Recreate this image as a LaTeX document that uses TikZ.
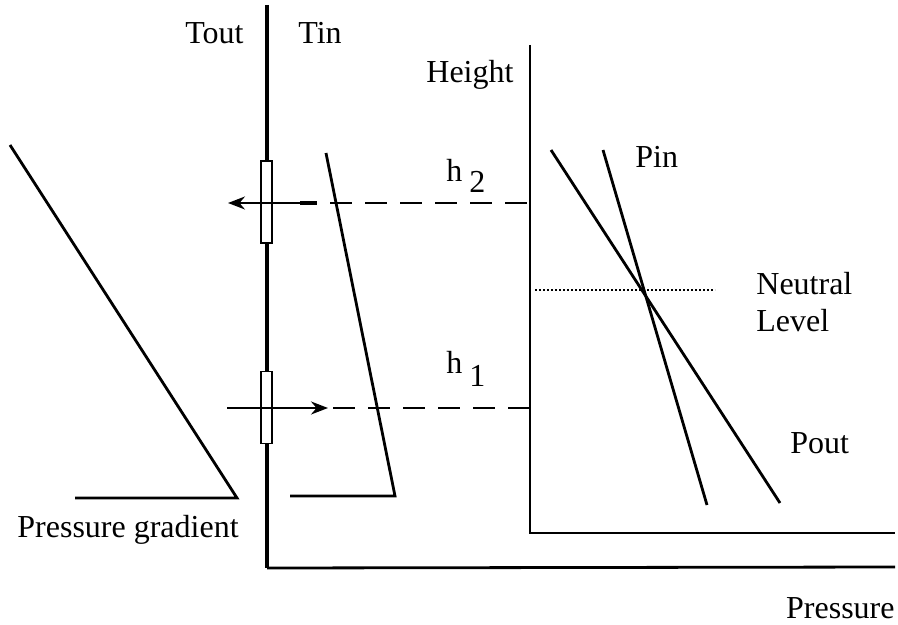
\documentclass[tikz,border=0pt]{standalone}
\usepackage{fontspec}
\setmainfont{Liberation Serif}
\usetikzlibrary{arrows.meta}
\begin{document}
\begin{tikzpicture}[x=0.5pt,y=-0.5pt,
  lbl/.style={font=\fontsize{16}{19}\selectfont, inner sep=0pt, anchor=base west},
  wall/.style={line width=2pt},
  slope/.style={line width=1.4pt},
  axis/.style={line width=1.4pt},
  flow/.style={line width=1pt},
  dashline/.style={line width=1pt, dash pattern=on 11pt off 6.5pt},
  window/.style={draw, line width=0.8pt, fill=white, minimum width=5.5pt, inner sep=0pt},
  tip/.style={-{Stealth[length=8.5pt,width=6.5pt]}}]
\useasboundingbox (0,0) rectangle (898,625);
% wall
\coordinate (wtop) at (267,5);
\coordinate (wbot) at (267,568);
\draw[wall] (wtop) -- (wbot);
\node[window, minimum height=41pt] (win2) at (266.5,202) {};
\node[window, minimum height=36pt] (win1) at (266.5,407.5) {};
% bottom axis
\coordinate (bx) at (895,567);
\draw[axis] (wbot) -- (bx);
% right graph axes
\coordinate (gtop) at (530,45);
\coordinate (gorig) at (530,533);
\coordinate (gright) at (895,533);
\draw[axis] (gtop) -- (gorig) -- (gright);
% outside pressure gradient
\coordinate (o1) at (10,145);
\coordinate (o2) at (237,498);
\coordinate (o3) at (75,498);
\draw[slope] (o1) -- (o2) -- (o3);
% inside pressure gradient
\coordinate (i1) at (326,153);
\coordinate (i2) at (395,496);
\coordinate (i3) at (290,496);
\draw[slope] (i1) -- (i2) -- (i3);
% upper flow (outward)
\coordinate (u0) at (317,203);
\coordinate (ub) at (300,203);
\coordinate (ut) at (228,203);
\draw[flow,tip] (u0) -- (ut);
\draw[line width=2.2pt] (ub) -- (u0);
\coordinate (d2a) at (330,203);
\coordinate (d2b) at (530,203);
\draw[dashline] (d2a) -- (d2b);
% lower flow (inward)
\coordinate (l0) at (227,408);
\coordinate (lt) at (328,408);
\draw[flow,tip] (l0) -- (lt);
\coordinate (d1a) at (333,408);
\coordinate (d1b) at (530,408);
\draw[dashline] (d1a) -- (d1b);
% Pin and Pout
\coordinate (pin1) at (603,150);
\coordinate (pin2) at (707,505);
\coordinate (pout1) at (551,150);
\coordinate (pout2) at (780,503);
\draw[slope] (pin1) -- (pin2);
\draw[slope] (pout1) -- (pout2);
% neutral level
\coordinate (n1) at (535,290);
\coordinate (n2) at (715,290);
\draw[line width=1pt, dash pattern=on 1.2pt off 0.8pt] (n1) -- (n2);
% labels
\node[lbl] (tout) at (185,44) {Tout};
\node[lbl] (tin) at (298,44) {Tin};
\node[lbl] (height) at (426,83) {Height};
\node[lbl] (h2) at (446,182) {h\hspace{3.5pt}\raisebox{-5.5pt}{2}};
\node[lbl] (pinl) at (635,168) {Pin};
\node[lbl] (neutral) at (756,295) {Neutral};
\node[lbl] (level) at (756,331) {Level};
\node[lbl] (h1) at (446,373) {h\hspace{3.5pt}\raisebox{-6.5pt}{1}};
\node[lbl] (poutl) at (790,453) {Pout};
\node[lbl] (pg) at (17,537) {Pressure gradient};
\node[lbl, anchor=base east] (press) at (895,618) {Pressure};
\end{tikzpicture}
\end{document}
